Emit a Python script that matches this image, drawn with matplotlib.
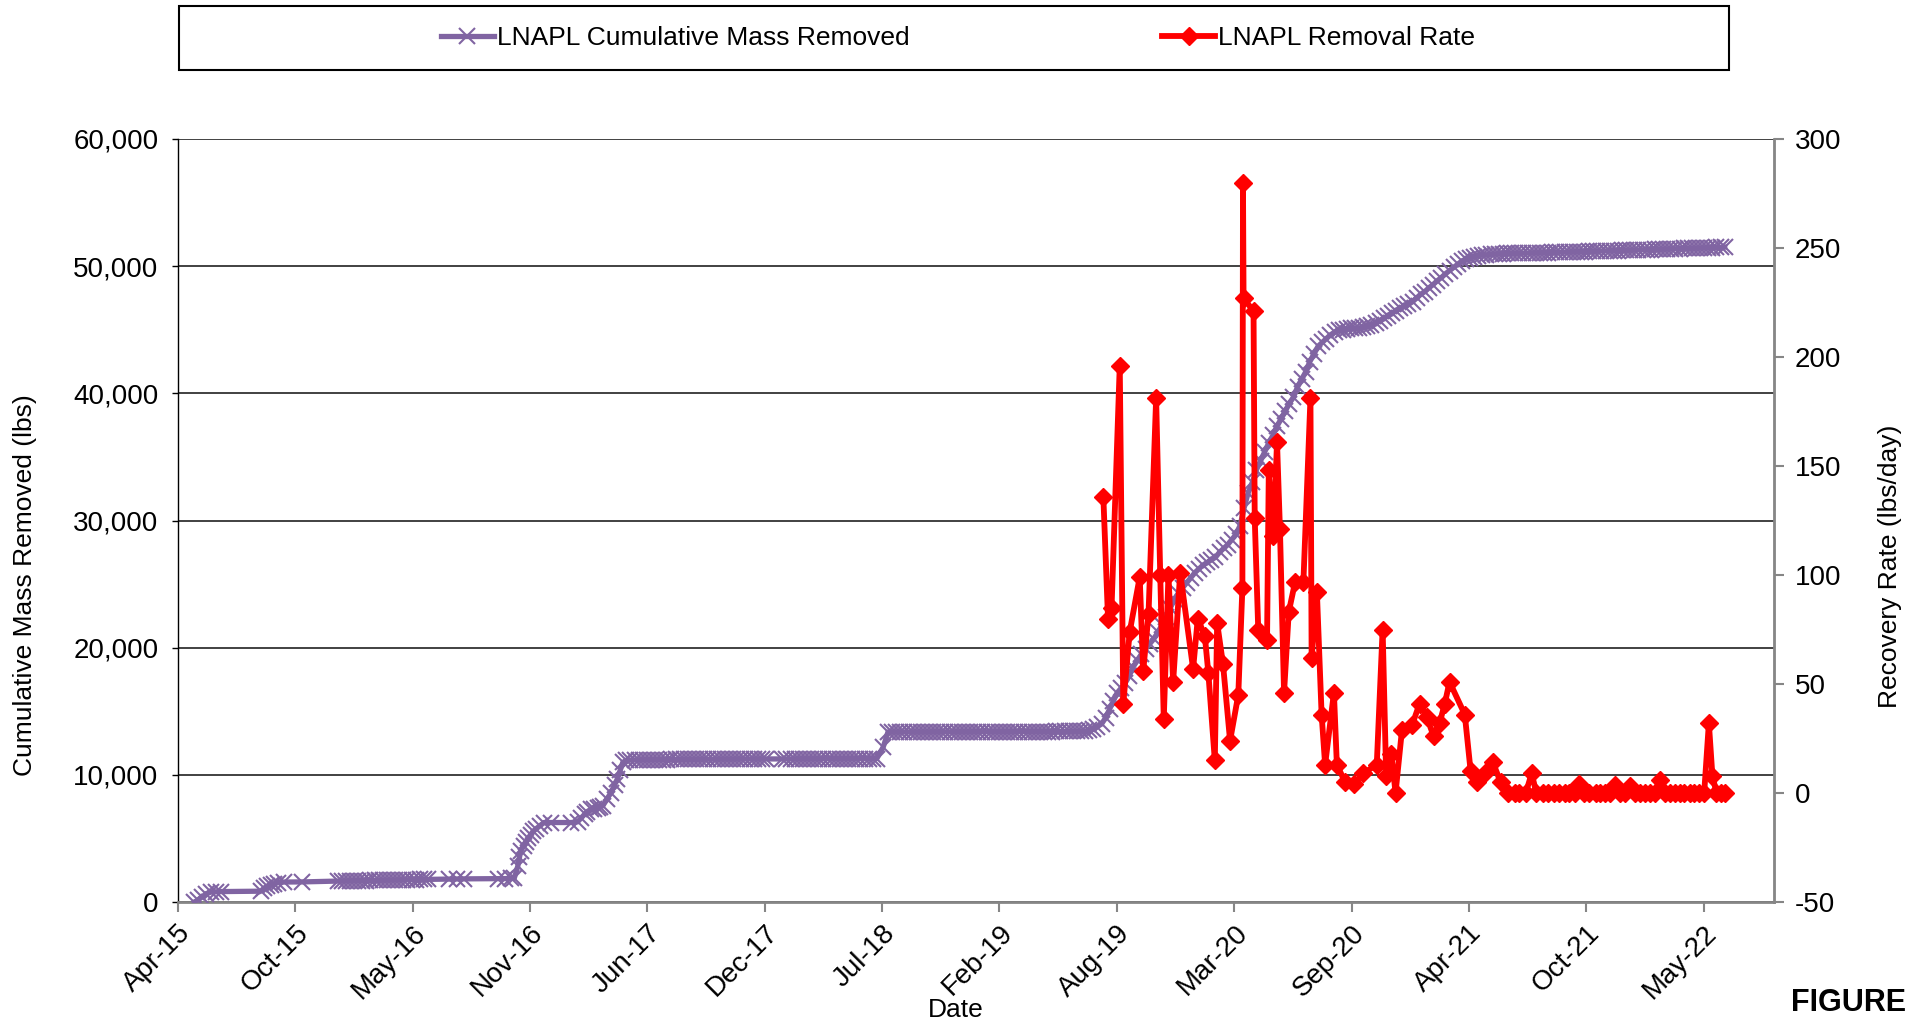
import matplotlib
matplotlib.use('Agg')
import matplotlib.pyplot as plt
import pandas as pd
from matplotlib.lines import Line2D
from matplotlib.patches import Rectangle
from matplotlib.ticker import FuncFormatter

plt.rcParams['font.family'] = ['Liberation Sans', 'DejaVu Sans']
plt.rcParams['axes.unicode_minus'] = False

# ---------------- data ----------------
tick_dates = ['2015-04-06', '2015-10-23', '2016-05-10', '2016-11-26', '2017-06-14',
              '2017-12-31', '2018-07-19', '2019-02-04', '2019-08-23', '2020-03-10',
              '2020-09-26', '2021-04-14', '2021-10-31', '2022-05-19']
tick_labels = ['Apr-15', 'Oct-15', 'May-16', 'Nov-16', 'Jun-17', 'Dec-17', 'Jul-18',
               'Feb-19', 'Aug-19', 'Mar-20', 'Sep-20', 'Apr-21', 'Oct-21', 'May-22']
x_limits = ['2015-04-06', '2022-09-16']

cum_dates = [
    # 2015 - 2016
    '2015-05-04', '2015-05-10', '2015-05-17', '2015-05-24', '2015-06-01', '2015-06-09', '2015-06-18',
    '2015-08-25', '2015-08-31', '2015-09-05', '2015-09-11', '2015-09-17', '2015-09-23', '2015-10-04',
    '2015-11-04',
    '2016-01-03', '2016-01-10', '2016-01-17', '2016-01-24', '2016-01-31', '2016-02-07', '2016-02-14',
    '2016-02-21', '2016-02-28', '2016-03-06', '2016-03-13', '2016-03-20', '2016-03-27', '2016-04-03',
    '2016-04-10', '2016-04-17', '2016-04-24', '2016-05-01', '2016-05-08', '2016-05-15', '2016-05-22',
    '2016-05-29', '2016-06-05',
    '2016-07-11', '2016-07-24', '2016-08-06', '2016-10-02', '2016-10-14', '2016-10-24', '2016-10-30',
    '2016-11-05', '2016-11-08', '2016-11-10', '2016-11-15', '2016-11-19', '2016-11-23', '2016-11-27',
    '2016-12-01', '2016-12-06', '2016-12-13', '2016-12-20', '2017-01-01', '2017-02-04', '2017-02-15',
    '2017-02-21', '2017-02-27', '2017-03-03', '2017-03-10', '2017-03-15', '2017-03-21', '2017-03-25',
    '2017-03-30', '2017-04-06', '2017-04-13', '2017-04-19', '2017-04-24', '2017-04-29', '2017-05-03',
    '2017-05-09',
    # plateau 2017 - 2018
    '2017-05-16', '2017-05-23', '2017-05-30', '2017-06-06', '2017-06-13', '2017-06-20', '2017-06-27',
    '2017-07-04', '2017-07-11', '2017-07-18', '2017-07-25', '2017-08-01', '2017-08-08', '2017-08-15',
    '2017-08-22', '2017-08-29', '2017-09-05', '2017-09-12', '2017-09-19', '2017-09-26', '2017-10-03',
    '2017-10-10', '2017-10-17', '2017-10-24', '2017-10-31', '2017-11-07', '2017-11-14', '2017-11-21',
    '2017-11-28', '2017-12-05', '2017-12-12', '2017-12-19', '2017-12-26', '2018-01-02',
    '2018-01-30', '2018-02-06', '2018-02-13', '2018-02-20', '2018-02-27', '2018-03-06', '2018-03-13',
    '2018-03-20', '2018-03-27', '2018-04-03', '2018-04-10', '2018-04-17', '2018-04-24', '2018-05-01',
    '2018-05-08', '2018-05-15', '2018-05-22', '2018-05-29', '2018-06-05', '2018-06-12', '2018-06-19',
    '2018-06-26', '2018-07-03', '2018-07-10',
    '2018-07-21', '2018-07-29',
    # plateau 2018 - 2019
    '2018-08-05', '2018-08-12', '2018-08-19', '2018-08-26', '2018-09-02', '2018-09-09', '2018-09-16',
    '2018-09-23', '2018-09-30', '2018-10-07', '2018-10-14', '2018-10-21', '2018-10-28', '2018-11-04',
    '2018-11-11', '2018-11-18', '2018-11-25', '2018-12-02', '2018-12-09', '2018-12-16', '2018-12-23',
    '2018-12-30', '2019-01-06', '2019-01-13', '2019-01-20', '2019-01-27', '2019-02-03', '2019-02-10',
    '2019-02-17', '2019-02-24', '2019-03-03', '2019-03-10', '2019-03-17', '2019-03-24', '2019-03-31',
    '2019-04-07', '2019-04-14', '2019-04-21', '2019-04-28', '2019-05-05', '2019-05-12', '2019-05-19',
    '2019-05-26', '2019-06-02', '2019-06-09', '2019-06-16', '2019-06-23', '2019-06-30', '2019-07-07',
    # rise 2019 - 2021
    '2019-07-14', '2019-07-21', '2019-07-28', '2019-08-04', '2019-08-11', '2019-08-17', '2019-08-23',
    '2019-08-30', '2019-09-06', '2019-09-13', '2019-09-20', '2019-09-27', '2019-10-04', '2019-10-11',
    '2019-10-18', '2019-10-25', '2019-11-01', '2019-11-08', '2019-11-15', '2019-11-22', '2019-11-29',
    '2019-12-06', '2019-12-13', '2019-12-20', '2019-12-27', '2020-01-03', '2020-01-10', '2020-01-17',
    '2020-01-24', '2020-01-31', '2020-02-07', '2020-02-14', '2020-02-21', '2020-02-28', '2020-03-06',
    '2020-03-13', '2020-03-20', '2020-03-27', '2020-04-03', '2020-04-10', '2020-04-17', '2020-04-24',
    '2020-05-01', '2020-05-08', '2020-05-15', '2020-05-22', '2020-05-29', '2020-06-05', '2020-06-12',
    '2020-06-19', '2020-06-26', '2020-07-03', '2020-07-10', '2020-07-17', '2020-07-24', '2020-07-31',
    '2020-08-07', '2020-08-14', '2020-08-21', '2020-08-28', '2020-09-04', '2020-09-11', '2020-09-18',
    '2020-09-25', '2020-10-02', '2020-10-09', '2020-10-16', '2020-10-23', '2020-10-30', '2020-11-06',
    '2020-11-13', '2020-11-20', '2020-11-27', '2020-12-04', '2020-12-11', '2020-12-18', '2020-12-25',
    '2021-01-01', '2021-01-08', '2021-01-15', '2021-01-22', '2021-01-29', '2021-02-05', '2021-02-12',
    '2021-02-19', '2021-02-26', '2021-03-05', '2021-03-12', '2021-03-19', '2021-03-26', '2021-04-02',
    '2021-04-09', '2021-04-16', '2021-04-23', '2021-04-30', '2021-05-07', '2021-05-14', '2021-05-21',
    '2021-05-28', '2021-06-04', '2021-06-11',
    # tail 2021 - 2022
    '2021-06-18', '2021-06-25', '2021-07-02', '2021-07-09', '2021-07-16', '2021-07-23', '2021-07-30',
    '2021-08-06', '2021-08-13', '2021-08-20', '2021-08-27', '2021-09-03', '2021-09-10', '2021-09-17',
    '2021-09-24', '2021-10-01', '2021-10-08', '2021-10-15', '2021-10-22', '2021-10-29', '2021-11-05',
    '2021-11-12', '2021-11-19', '2021-11-26', '2021-12-03', '2021-12-10', '2021-12-17', '2021-12-24',
    '2021-12-31', '2022-01-07', '2022-01-14', '2022-01-21', '2022-01-28', '2022-02-04', '2022-02-11',
    '2022-02-18', '2022-02-25', '2022-03-04', '2022-03-11', '2022-03-18', '2022-03-25', '2022-04-01',
    '2022-04-08', '2022-04-15', '2022-04-22', '2022-04-29', '2022-05-06', '2022-05-13', '2022-05-20',
    '2022-05-27', '2022-06-03', '2022-06-10', '2022-06-17', '2022-06-24',
]
cum_mass = [
    0, 150, 400, 650, 780, 800, 820,
    850, 1100, 1250, 1320, 1420, 1520, 1570,
    1580,
    1650, 1655, 1660, 1665, 1670, 1675, 1680,
    1690, 1700, 1705, 1710, 1715, 1720, 1725,
    1730, 1740, 1745, 1750, 1760, 1765, 1770,
    1775, 1780,
    1800, 1810, 1820, 1830, 1840, 1850, 1860,
    2800, 3500, 4000, 4400, 4700, 5000, 5300,
    5550, 5750, 6000, 6250, 6250, 6250, 6300,
    6600, 6900, 7100, 7300, 7350, 7430, 7500,
    7560, 8100, 8600, 9200, 9700, 10400, 10970,
    11150,
    11160, 11170, 11170, 11180, 11180, 11190, 11190,
    11200, 11200, 11200, 11210, 11210, 11210, 11220,
    11220, 11220, 11220, 11230, 11230, 11230, 11230,
    11240, 11240, 11240, 11240, 11240, 11250, 11250,
    11250, 11250, 11250, 11250, 11250, 11250,
    11250, 11250, 11250, 11250, 11260, 11260, 11260,
    11260, 11260, 11260, 11270, 11270, 11270, 11270,
    11270, 11270, 11280, 11280, 11280, 11280, 11280,
    11280, 11280, 11280,
    12200, 13370,
    13370, 13370, 13370, 13370, 13370, 13370, 13370,
    13370, 13370, 13370, 13380, 13380, 13380, 13380,
    13380, 13380, 13380, 13380, 13380, 13380, 13390,
    13390, 13390, 13390, 13390, 13390, 13390, 13390,
    13390, 13390, 13400, 13400, 13400, 13400, 13400,
    13400, 13400, 13400, 13400, 13400, 13410, 13410,
    13410, 13410, 13410, 13420, 13430, 13450, 13500,
    13600, 13800, 14000, 14500, 15200, 15800, 16400,
    16800, 17200, 17800, 18500, 19000, 19500, 19900,
    20300, 20700, 21200, 21800, 22400, 23100, 23800,
    24300, 24700, 25100, 25500, 25900, 26200, 26500,
    26700, 26900, 27100, 27500, 27800, 28100, 28500,
    28900, 29600, 31000, 32200, 33000, 34000, 34700,
    35400, 36100, 36700, 37400, 38000, 38600, 39200,
    39700, 40500, 41100, 41700, 42500, 43100, 43700,
    44000, 44300, 44600, 44800, 44950, 45000, 45050,
    45100, 45100, 45150, 45200, 45300, 45400, 45500,
    45700, 45900, 46100, 46300, 46500, 46700, 46850,
    47000, 47200, 47500, 47800, 48000, 48300, 48550,
    48850, 49100, 49400, 49650, 49900, 50150, 50400,
    50550, 50650, 50750, 50820, 50870, 50900, 50930,
    50950, 50970, 50980,
    51000, 51000, 51010, 51020, 51020, 51030, 51040,
    51050, 51050, 51060, 51070, 51080, 51090, 51100,
    51100, 51110, 51120, 51130, 51140, 51150, 51160,
    51170, 51180, 51190, 51200, 51210, 51220, 51230,
    51240, 51250, 51260, 51270, 51280, 51290, 51300,
    51310, 51320, 51330, 51340, 51350, 51360, 51370,
    51380, 51390, 51400, 51410, 51420, 51430, 51440,
    51450, 51460, 51470, 51480, 51500,
]

rate_dates = [
    '2019-07-31', '2019-08-08', '2019-08-14', '2019-08-28', '2019-09-03', '2019-09-14', '2019-10-01',
    '2019-10-07', '2019-10-16', '2019-10-29', '2019-11-05', '2019-11-11', '2019-11-19', '2019-11-27',
    '2019-12-09', '2019-12-31', '2020-01-08', '2020-01-20', '2020-01-26', '2020-02-06', '2020-02-10',
    '2020-02-20', '2020-03-03', '2020-03-17', '2020-03-24', '2020-03-25', '2020-03-26', '2020-04-12',
    '2020-04-14', '2020-04-20', '2020-05-05', '2020-05-08', '2020-05-16', '2020-05-22', '2020-05-27',
    '2020-06-03', '2020-06-11', '2020-06-22', '2020-07-06', '2020-07-18', '2020-07-20', '2020-07-29',
    '2020-08-06', '2020-08-12', '2020-08-27', '2020-09-01', '2020-09-15', '2020-09-30', '2020-10-16',
    '2020-11-08', '2020-11-18', '2020-11-24', '2020-12-03', '2020-12-10', '2020-12-21', '2021-01-07',
    '2021-01-20', '2021-02-01', '2021-02-13', '2021-02-23', '2021-03-04', '2021-03-12', '2021-04-07',
    '2021-04-17', '2021-04-28', '2021-05-11', '2021-05-25', '2021-06-07', '2021-06-20',
    '2021-07-01', '2021-07-09', '2021-07-20', '2021-07-30', '2021-08-07', '2021-08-18', '2021-08-26',
    '2021-09-06', '2021-09-14', '2021-09-24', '2021-10-02', '2021-10-11', '2021-10-19', '2021-10-28',
    '2021-11-05', '2021-11-16', '2021-11-24', '2021-12-02', '2021-12-11', '2021-12-19', '2021-12-28',
    '2022-01-05', '2022-01-14', '2022-01-22', '2022-01-31', '2022-02-08', '2022-02-16', '2022-02-25',
    '2022-03-05', '2022-03-14', '2022-03-22', '2022-03-31', '2022-04-08', '2022-04-16', '2022-04-25',
    '2022-05-03', '2022-05-12', '2022-05-20', '2022-05-28', '2022-06-03', '2022-06-10', '2022-06-18',
    '2022-06-25',
]
rate_vals = [
    136, 80, 85, 196, 41, 74, 99,
    56, 82, 181, 100, 34, 100, 51,
    101, 57, 80, 72, 55, 15, 78,
    59, 24, 45, 94, 280, 227, 221,
    126, 75, 70, 148, 118, 161, 121,
    46, 83, 97, 97, 181, 62, 92,
    36, 13, 46, 13, 5, 4, 9,
    13, 75, 8, 18, 0, 29, 31,
    41, 35, 26, 32, 41, 51, 36,
    10, 5, 9, 14, 5, 0,
    0, 0, 0, 9, 0, 0, 0,
    0, 0, 0, 0, 0, 4, 0,
    0, 0, 0, 0, 0, 3.5, 0,
    0, 3, 0, 0, 0, 0, 0,
    6, 0, 0, 0, 0, 0, 0,
    0, 0, 0, 32, 8, 0, 0,
    0,
]

label_cum = 'LNAPL Cumulative Mass Removed'
label_rate = 'LNAPL Removal Rate'

# ---------------- figure ----------------
W, H = 1931, 1026
fig = plt.figure(figsize=(W / 100, H / 100), dpi=100)
L, R, T, B = 178, 1774, 139, 902
ax = fig.add_axes([L / W, 1 - B / H, (R - L) / W, (B - T) / H])
ax2 = ax.twinx()

purple = '#8064A2'
red = '#FF0000'
gray = '#868686'

cd = pd.to_datetime(cum_dates)
rd = pd.to_datetime(rate_dates)

ax.plot(cd, cum_mass, color=purple, lw=3.8, marker='x', ms=11, mew=1.5, zorder=3)
ax2.plot(rd, rate_vals, color=red, lw=4.2, marker='D', ms=9.5, mew=1.0, zorder=3)

ax.set_xlim(pd.Timestamp(x_limits[0]), pd.Timestamp(x_limits[1]))
ax.set_ylim(0, 60000)
ax.set_yticks(range(0, 60001, 10000))
ax.yaxis.set_major_formatter(FuncFormatter(lambda v, p: f'{int(v):,}'))
ax2.set_ylim(-50, 300)
ax2.set_yticks(range(-50, 301, 50))

ax.set_xticks(pd.to_datetime(tick_dates))
ax.set_xticklabels(tick_labels, rotation=45, ha='right', va='top', rotation_mode='anchor')

ax.grid(axis='y', color='#333333', lw=1.3, zorder=0)
ax.set_axisbelow(True)

for a in (ax, ax2):
    a.spines['top'].set_visible(False)
ax.spines['left'].set_color('black')
ax.spines['left'].set_linewidth(1.0)
ax.spines['bottom'].set_color(gray)
ax.spines['bottom'].set_linewidth(2.0)
ax2.spines['right'].set_color(gray)
ax2.spines['right'].set_linewidth(2.0)
ax2.spines['left'].set_visible(False)
ax2.spines['bottom'].set_visible(False)

ax.tick_params(axis='x', direction='out', length=7, width=1.5, color=gray, labelsize=20, pad=6)
ax.tick_params(axis='y', direction='out', length=4, width=1.0, color='black', labelsize=20, pad=10)
ax2.tick_params(axis='y', direction='out', length=7, width=1.5, color=gray, labelsize=20, pad=8)

# axis titles
fig.text(25 / W, 1 - 585 / H, 'Cumulative Mass Removed (lbs)', rotation=90,
         ha='center', va='center', fontsize=19)
fig.text(1890 / W, 1 - 566 / H, 'Recovery Rate (lbs/day)', rotation=90,
         ha='center', va='center', fontsize=19)
fig.text(956 / W, 1 - 1010 / H, 'Date', ha='center', va='center', fontsize=19)
fig.text(1906 / W, 1 - 1003 / H, 'FIGURE', ha='right', va='center', fontsize=22,
         fontweight='bold')

# legend box
fig.patches.append(Rectangle((178.6 / W, 1 - 70 / H), (1729 - 178.6) / W, 64 / H,
                             transform=fig.transFigure, fill=False, edgecolor='black',
                             lw=1.5, zorder=5))
handles = [Line2D([], [], color=purple, lw=3.8, marker='x', ms=11, mew=1.5),
           Line2D([], [], color=red, lw=4.2, marker='D', ms=9.5)]
fig.legend(handles, [label_cum, label_rate], loc='center', bbox_to_anchor=(958 / W, 1 - 38 / H),
           ncol=2, frameon=False, fontsize=19, handlelength=2.0, handletextpad=0.1,
           columnspacing=9.6, numpoints=1)

fig.savefig('out.png', dpi=100)
